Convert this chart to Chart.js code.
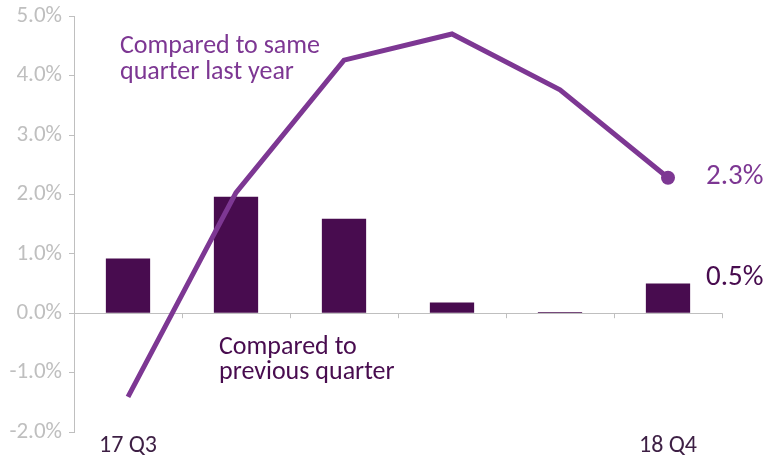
<!DOCTYPE html>
<html>
<head>
<meta charset="utf-8">
<script src="https://cdn.jsdelivr.net/npm/chart.js@4/dist/chart.umd.min.js"></script>
<style>
    html, body { margin: 0; padding: 0; background: #fff; }
    #wrap { width: 777px; height: 457px; }
</style>
</head>
<body>
<div id="wrap"><canvas id="chart"></canvas></div>
<script>
const quarters = ['17 Q3', '17 Q4', '18 Q1', '18 Q2', '18 Q3', '18 Q4'];
const prevQuarter = [0.92, 1.96, 1.59, 0.18, 0.02, 0.50];
const sameQuarterLastYear = [-1.41, 2.03, 4.26, 4.70, 3.76, 2.28];
const shownLabels = ['17 Q3', '18 Q4'];

const lineColor = '#7d3793';
const barColor = '#480c4f';
const axisGrey = '#bfbfbf';
const fontFamily = 'Carlito, Lato, sans-serif';

// texts that sit on the chart, plus the two end value labels
const annotations = {
    id: 'annotations',
    afterDraw(chart) {
        const ctx = chart.ctx;
        const x = chart.scales.x;
        const y = chart.scales.y;
        const y0 = y.getPixelForValue(0);

        // little tick marks on the zero line, between categories
        ctx.save();
        ctx.strokeStyle = axisGrey;
        ctx.lineWidth = 1;
        for (let i = 0; i <= quarters.length; i++) {
            const px = Math.round(x.getPixelForValue(i - 0.5)) + 0.5;
            ctx.beginPath();
            ctx.moveTo(px, y0);
            ctx.lineTo(px, y0 + 5);
            ctx.stroke();
        }

        ctx.textBaseline = 'alphabetic';
        ctx.textAlign = 'left';

        ctx.fillStyle = lineColor;
        ctx.font = '26px ' + fontFamily;
        ctx.fillText('Compared to same', 120, 53);
        ctx.fillText('quarter last year', 120, 79);

        ctx.fillStyle = barColor;
        ctx.font = '26px ' + fontFamily;
        ctx.fillText('Compared to', 219, 354);
        ctx.fillText('previous quarter', 219, 379);

        const last = quarters.length - 1;
        const lx = x.getPixelForValue(last) + 38;
        ctx.font = '29px ' + fontFamily;
        ctx.fillStyle = lineColor;
        ctx.fillText(sameQuarterLastYear[last].toFixed(1) + '%', lx, y.getPixelForValue(sameQuarterLastYear[last]) + 6);
        ctx.fillStyle = barColor;
        ctx.fillText(prevQuarter[last].toFixed(1) + '%', lx, y.getPixelForValue(prevQuarter[last]) + 1);
        ctx.restore();
    }
};

const context = document.querySelector('#chart').getContext('2d');
const chart = new Chart(context, {
    type: 'bar',
    data: {
        labels: quarters,
        datasets: [{
            type: 'line',
            label: 'Compared to same quarter last year',
            data: sameQuarterLastYear,
            borderColor: lineColor,
            backgroundColor: lineColor,
            borderWidth: 5,
            tension: 0,
            pointRadius: quarters.map((q, i) => i === quarters.length - 1 ? 7 : 0),
            pointBorderWidth: 0,
            order: 0
        }, {
            label: 'Compared to previous quarter',
            data: prevQuarter,
            backgroundColor: barColor,
            barPercentage: 0.41,
            categoryPercentage: 1,
            order: 1
        }]
    },
    options: {
        responsive: true,
        maintainAspectRatio: false,
        animation: false,
        layout: { padding: { left: 0, right: 55, top: 2, bottom: 0 } },
        plugins: {
            legend: { display: false },
            tooltip: { enabled: false }
        },
        scales: {
            x: {
                offset: true,
                grid: { display: false, drawTicks: false },
                border: { display: false },
                ticks: {
                    color: '#3d1f44',
                    font: { family: fontFamily, size: 24 },
                    padding: 0,
                    maxRotation: 0,
                    autoSkip: false,
                    callback: function(v) {
                        const l = this.getLabelForValue(v);
                        return shownLabels.includes(l) ? l : '';
                    }
                },
                afterFit: s => { s.height = 25; }
            },
            y: {
                min: -2,
                max: 5,
                ticks: {
                    stepSize: 1,
                    color: axisGrey,
                    font: { family: fontFamily, size: 23, lineHeight: 0.8 },
                    padding: 7,
                    callback: v => v.toFixed(1) + '%'
                },
                grid: {
                    color: c => c.tick && c.tick.value === 0 ? axisGrey : 'rgba(0,0,0,0)',
                    tickColor: axisGrey,
                    tickLength: 5,
                    lineWidth: 1
                },
                border: { color: axisGrey, width: 1 },
                afterFit: s => { s.width = 74; }
            }
        }
    },
    plugins: [annotations]
});
</script>
</body>
</html>
